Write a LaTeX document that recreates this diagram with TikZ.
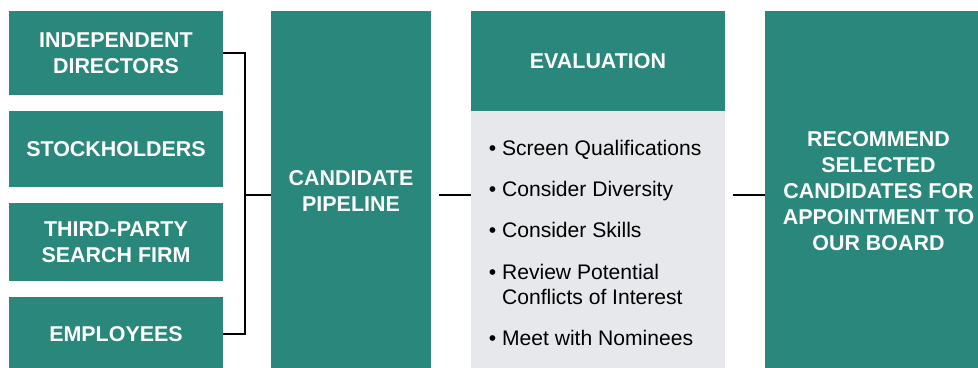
\documentclass[tikz,border=0pt]{standalone}
\usepackage{fontspec}
\setmainfont{Liberation Sans}
\usepackage{xcolor}
\usepackage{tikz}
\usetikzlibrary{
  positioning,
  calc,
}

\definecolor{teal}{RGB}{41,135,124}
\definecolor{lightgray}{RGB}{231,232,236}

\begin{document}
\begin{tikzpicture}[
  every node/.style={align=center},
  box/.style={fill=teal, draw=none, inner sep=0pt, text=white,
    font=\fontsize{12.2}{14.8}\selectfont\bfseries},
  source/.style={box, minimum width=4.28cm},
  tall/.style={box, minimum height=7.2cm},
  link/.style={black, line width=1.1pt},
]

\useasboundingbox (0,0) rectangle (19.56,-7.36);

%% Sources on the left
\node[source, minimum height=1.68cm] (directors)    at (2.32,-1.06) {INDEPENDENT\\DIRECTORS};
\node[source, minimum height=1.52cm] (stockholders) at (2.32,-2.98) {STOCKHOLDERS};
\node[source, minimum height=1.56cm] (searchfirm)   at (2.32,-4.84) {THIRD-PARTY\\SEARCH FIRM};
\node[source, minimum height=1.48cm] (employees)    at (2.32,-6.68) {EMPLOYEES};

%% Pipeline
\node[tall, minimum width=3.2cm] (pipeline) at (7.02,-3.82) {CANDIDATE\\PIPELINE};

%% Evaluation: header and list
\node[box, minimum width=5.08cm, minimum height=2.0cm] (evalhead) at (11.96,-1.22) {EVALUATION};
\node[fill=lightgray, minimum width=5.08cm, minimum height=5.2cm, inner sep=0pt]
  (evalbody) at (11.96,-4.82) {};
\node[anchor=north west, align=left, inner sep=0pt,
  font=\fontsize{12}{14.3}\selectfont] (evallist) at (9.77,-2.79)
  {\textbullet\ Screen Qualifications\\[9.2pt]
   \textbullet\ Consider Diversity\\[9.2pt]
   \textbullet\ Consider Skills\\[9.2pt]
   \textbullet\ Review Potential\\
   \hphantom{\textbullet\ }Conflicts of Interest\\[9.2pt]
   \textbullet\ Meet with Nominees};

%% Outcome
\node[tall, minimum width=4.54cm] (recommend) at (17.57,-3.82)
  {RECOMMEND\\SELECTED\\CANDIDATES FOR\\APPOINTMENT TO\\OUR BOARD};

%% Bracket joining the sources
\coordinate (join) at (4.90,-3.90);
\draw[link] (directors.east) -| (join) |- (employees.east);
\draw[link] (join) -- (join -| pipeline.west);

%% Steps
\draw[link, shorten <=0.16cm] (pipeline.east |- join) -- (evalbody.west |- join);
\draw[link, shorten <=0.16cm] (evalbody.east |- join) -- (recommend.west |- join);

\end{tikzpicture}
\end{document}
